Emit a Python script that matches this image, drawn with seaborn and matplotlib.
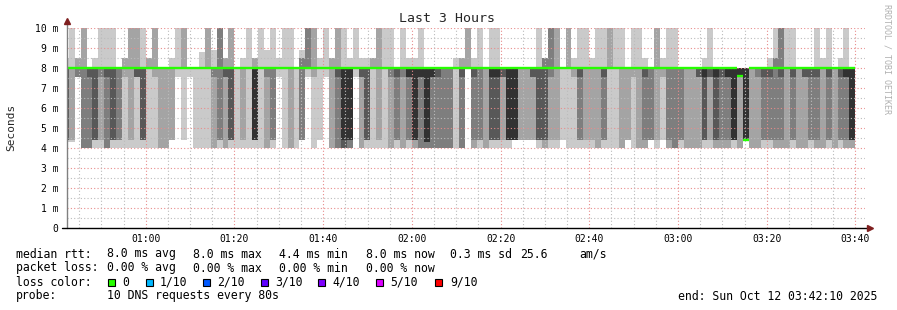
import numpy as np
import pandas as pd
import matplotlib
matplotlib.use("Agg")
import matplotlib.pyplot as plt
from matplotlib.patches import Rectangle
import seaborn as sns

# ---------------- data (ms), 10 sorted pings per 80 s step ----------------
p10 = [8.5, 10, 8.5, 10, 8, 8.5, 10, 10, 10, 8,
       8.5, 10, 10, 10, 8.5, 10, 8, 8, 8.5, 10,
       10, 8, 8, 8.8, 10, 8.9, 10, 8.5, 10, 8,
       8.5, 10, 8.5, 10, 8.9, 10, 8.5, 10, 10, 8,
       8.9, 10, 10, 8.5, 10, 8.5, 10, 10, 8.5, 10,
       8.5, 8.5, 8.5, 10, 10, 10, 8, 10, 8.5, 8.5,
       10, 8, 8, 8, 8, 8, 8.5, 8.5, 10, 8.5,
       10, 8, 10, 10, 8, 8, 8, 8, 8, 8,
       10, 8.5, 10, 10, 8, 10, 8.5, 10, 10, 8.5,
       10, 10, 10, 10, 10, 8, 10, 10, 8.5, 8,
       10, 8.5, 10, 10, 8, 8, 8, 8, 8.5, 10,
       8, 8, 8, 8, 8, 8, 8, 8, 8, 8.5,
       10, 10, 10, 10, 8, 8, 8, 10, 8.5, 10,
       8, 8.5, 10, 8]
p09 = [8, 8, 8.5, 10, 8, 8, 8, 8, 8, 8,
       8.5, 10, 10, 8, 8.5, 10, 8, 8, 8, 8,
       10, 8, 8, 8, 10, 8, 10, 8.5, 10, 8,
       8, 8, 8.5, 8, 8, 8, 8, 8, 8, 8,
       8.5, 10, 10, 8, 8, 8.5, 10, 8, 8, 8,
       8, 8, 8.5, 10, 8, 8, 8, 8, 8, 8,
       8, 8, 8, 8, 8, 8, 8, 8.5, 10, 8,
       8, 8, 8, 8, 8, 8, 8, 8, 8, 8,
       8, 8.5, 10, 10, 8, 10, 8, 8, 8, 8,
       8, 8, 10, 8, 8, 8, 8, 8, 8, 8,
       10, 8, 8, 8, 8, 8, 8, 8, 8, 8,
       8, 8, 8, 8, 8, 8, 8, 8, 8, 8,
       8.5, 10, 8, 8, 8, 8, 8, 8, 8, 8,
       8, 8, 8, 8]
p08 = [8, 8, 8, 8, 8, 8, 8, 8, 8, 8,
       8, 8, 8, 8, 8, 8, 8, 8, 8, 8,
       8, 8, 8, 8, 8, 8, 10, 8, 8, 8,
       8, 8, 8, 8, 8, 8, 8, 8, 8, 8,
       8.5, 10, 8, 8, 8, 8, 8, 8, 8, 8,
       8, 8, 8, 8, 8, 8, 8, 8, 8, 8,
       8, 8, 8, 8, 8, 8, 8, 8, 8, 8,
       8, 8, 8, 8, 8, 8, 8, 8, 8, 8,
       8, 8.5, 10, 8, 8, 8, 8, 8, 8, 8,
       8, 8, 8, 8, 8, 8, 8, 8, 8, 8,
       8, 8, 8, 8, 8, 8, 8, 8, 8, 8,
       8, 8, 8, 8, 8, 8, 8, 8, 8, 8,
       8.5, 10, 8, 8, 8, 8, 8, 8, 8, 8,
       8, 8, 8, 8]
p07 = [8, 8, 8, 8, 8, 8, 8, 8, 8, 8,
       8, 8, 8, 8, 8, 8, 8, 8, 8, 8,
       8, 8, 8, 8, 8, 8, 8, 8, 8, 8,
       8, 8, 8, 8, 8, 8, 8, 8, 8, 8,
       8, 8, 8, 8, 8, 8, 8, 8, 8, 8,
       8, 8, 8, 8, 8, 8, 8, 8, 8, 8,
       8, 8, 8, 8, 8, 8, 8, 8, 8, 8,
       8, 8, 8, 8, 8, 8, 8, 8, 8, 8,
       8, 8, 8, 8, 8, 8, 8, 8, 8, 8,
       8, 8, 8, 8, 8, 8, 8, 8, 8, 8,
       8, 8, 8, 8, 8, 8, 8, 8, 8, 8,
       8, 8, 8, 8, 8, 8, 8, 8, 8, 8,
       8, 8, 8, 8, 8, 8, 8, 8, 8, 8,
       8, 8, 8, 8]
p06 = list(p07)
p05 = [8, 8, 8, 8, 8, 8, 8, 8, 8, 8,
       8, 8, 8, 8, 8, 8, 8, 8, 8, 8,
       8, 8, 8, 8, 8, 8, 8, 8, 8, 8,
       8, 8, 4.4, 8, 8, 8, 8, 8, 8, 8,
       8, 8, 8, 8, 8, 8, 8, 4.4, 4.4, 8,
       8, 8, 8, 8, 8, 8, 8, 8, 7.55, 4.4,
       7.55, 4.3, 7.55, 8, 8, 8, 8, 8, 8, 8,
       8, 8, 7.55, 7.55, 8, 4.4, 4.4, 8, 8, 8,
       8, 8, 8, 8, 8, 8, 8, 8, 8, 8,
       8, 8, 8, 8, 8, 8, 8, 8, 8, 8,
       8, 8, 8, 8, 8, 8, 8, 8, 7.55, 8,
       7.55, 8, 7.55, 4.4, 7.55, 4.4, 8, 8, 8, 8,
       8, 8, 8, 8, 8, 8, 8, 8, 8, 8,
       8, 8, 7.55, 4.4]
p04 = [4.4, 8, 8, 8, 7.55, 4.4, 8, 7.55, 4.4, 8,
       8, 8, 7.55, 4.4, 8, 8, 8, 8, 8, 8,
       8, 8, 8, 8, 8, 8, 8, 7.55, 4.4, 8,
       8, 8, 4.4, 8, 8, 8, 8, 8, 8, 8,
       8, 8, 8, 8, 8, 8, 7.55, 4, 4.4, 8,
       7.55, 4.4, 8, 8, 8, 8, 7.55, 8, 7.55, 4.4,
       7.55, 4.3, 7.55, 7.55, 8, 8, 8, 7.55, 8, 7.55,
       8, 8, 4.4, 4.4, 7.55, 4.4, 4.4, 8, 8, 7.55,
       4.4, 4.4, 8, 8, 8, 8, 8, 7.55, 8, 8,
       8, 7.55, 8, 8, 8, 8, 8, 8, 7.55, 8,
       8, 8, 8, 8, 8, 8, 8, 7.55, 4.4, 7.55,
       4.4, 7.55, 7.55, 4.4, 7.55, 4.4, 8, 8, 7.55, 7.55,
       8, 7.55, 8, 7.55, 8, 7.55, 7.55, 7.55, 8, 7.55,
       8, 7.55, 7.55, 4.4]
p03 = [4.4, 8, 7.55, 4, 4, 4.4, 7.55, 4, 4.4, 4.4,
       8, 8, 7.55, 4.4, 8, 8, 8, 8, 8, 8,
       8, 8, 8, 8, 8, 7.55, 4.4, 7.55, 4.4, 8,
       8, 8, 4.4, 8, 7.55, 4.4, 8, 8, 8, 8,
       4.4, 8, 8, 8, 8, 8, 4, 4, 4, 8,
       7.55, 4.4, 8, 8, 8, 7.55, 4.4, 7.55, 4.4, 4.4,
       4, 4, 4, 4, 4, 4, 8, 4, 8, 4.4,
       4.4, 8, 4.4, 4.4, 7.55, 4.4, 4.4, 8, 8, 7.55,
       4.4, 4.4, 7.55, 8, 8, 8, 8, 4.4, 8, 8,
       8, 4.4, 8, 8, 8, 8, 8, 8, 4.4, 4.4,
       8, 8, 4.4, 4, 4.4, 8, 8, 7.55, 4.4, 7.55,
       4.4, 4.4, 4.4, 4.4, 7.55, 4.4, 8, 7.55, 4.4, 4.4,
       4.4, 4.4, 8, 4.4, 8, 7.55, 4.4, 4.4, 8, 4.4,
       8, 4.4, 4.4, 4.4]
p02 = [4.4, 4.4, 7.55, 4, 4, 4.4, 4.4, 4, 4.4, 4.4,
       7.55, 4.4, 7.55, 4.4, 8, 7.55, 4, 4, 4.4, 8,
       8, 8, 8, 8, 8, 4, 4.4, 4, 4.4, 8,
       4.4, 8, 4.4, 8, 4, 4.4, 8, 8, 4, 8,
       4.4, 8, 7.55, 8, 8, 4, 4, 4, 4, 8,
       4, 4.4, 8, 4.4, 8, 4, 4.4, 4, 4.4, 4,
       4, 4, 4, 4, 4, 4, 8, 4, 8, 4,
       4.4, 4, 4.4, 4.4, 4.4, 4.4, 4.4, 4.4, 4.4, 4.4,
       4.4, 4, 4.4, 4.4, 8, 8, 7.55, 4.4, 4.4, 4.4,
       4, 4.4, 8, 8, 4, 4.4, 7.55, 4, 4, 4.4,
       4.4, 7.55, 4, 4, 4.4, 4, 4, 4, 4.4, 4.4,
       4, 4, 4, 4.4, 4, 4.4, 4, 4, 4.4, 4.4,
       4, 4, 4, 4.4, 4, 4, 4.4, 4, 4, 4.4,
       4, 4.4, 4, 4]
p01 = [4.3, 4.3, 7.55, 4, 4, 4, 4, 4, 4, 4,
       4, 4, 4, 4, 4, 4, 4, 4, 4.4, 7.55,
       4.4, 7.55, 4, 4, 4, 4, 4, 4, 4, 4,
       4, 4, 4, 4, 4, 4, 7.55, 4, 4, 4,
       4.4, 7.55, 4, 4.4, 7.55, 4, 4, 4, 4, 7.55,
       4, 4, 4, 4, 4, 4, 4, 4, 4, 4,
       4, 4, 4, 4, 4, 4, 4, 4, 8, 4,
       4, 4, 4, 4, 4, 4, 4.4, 4.4, 4.4, 4.4,
       4, 4, 4, 4, 4.4, 4, 4, 4, 4, 4,
       4, 4, 4, 4, 4, 4.4, 4, 4, 4, 4.4,
       4, 4.4, 4, 4, 4, 4, 4, 4, 4, 4,
       4, 4, 4, 4, 4, 4.4, 4, 4, 4, 4,
       4, 4, 4, 4, 4, 4, 4, 4, 4, 4,
       4, 4, 4, 4]
median_rtt = [8] * 114 + [7.6, 4.4] + [8] * 18

x_labels = ["01:00", "01:20", "01:40", "02:00", "02:20", "02:40", "03:00", "03:20", "03:40"]
y_labels = ["0", "1 m", "2 m", "3 m", "4 m", "5 m", "6 m", "7 m", "8 m", "9 m", "10 m"]
loss_labels = ["0", "1/10", "2/10", "3/10", "4/10", "5/10", "9/10"]
loss_colors = ["#26ff00", "#00b8ff", "#0059ff", "#5e00ff", "#7e00ff", "#dd00ff", "#ff0000"]

# ---------------- figure ----------------
sns.set_style("white")
plt.rcParams["font.family"] = ["DejaVu Sans Mono", "DejaVu Sans"]

W, H = 897, 310
fig = plt.figure(figsize=(W / 100, H / 100), dpi=100)
fig.patch.set_facecolor("white")

def fx(px):
    return px / W

def fy(py):
    return 1 - py / H

ax = fig.add_axes([fx(66.7), fy(228), fx(865) - fx(66.7), 200 / H])
ax.set_facecolor("white")

step = 80 / 60.0            # minutes
t_start = 41.31             # minutes after 00:00 (left edge of first step)
n = len(p10)
left = t_start + step * np.arange(n)

bands = [(p01, p10), (p02, p09), (p03, p08), (p04, p07), (p05, p06)]
smoke = ["#cacaca", "#a4a4a4", "#7e7e7e", "#585858", "#323232"]
for (lo, hi), c in zip(bands, smoke):
    lo = np.asarray(lo, float)
    hi = np.asarray(hi, float)
    ax.bar(left, hi - lo, width=step, bottom=lo, align="edge", color=c,
           linewidth=0, antialiased=False, zorder=1)

xmin, xmax = 42.1667, 222.1667
ax.set_xlim(xmin, xmax)
ax.set_ylim(0, 10)

# grid (drawn over smoke like rrdtool)
for yv in np.arange(0.5, 10.01, 0.5):
    major = abs(yv - round(yv)) < 1e-6
    ax.axhline(yv, color="#e88c8c" if major else "#bcbcbc", lw=0.8,
               ls=(0, (1, 2)), zorder=2)
for tv in range(45, 221, 5):
    major = tv % 20 == 0
    ax.axvline(tv, color="#e88c8c" if major else "#bcbcbc", lw=0.8,
               ls=(0, (1, 2)), zorder=2)

# median line (one flat segment per step)
seg = pd.DataFrame({
    "t": np.concatenate([left, left + step]),
    "rtt": np.concatenate([median_rtt, median_rtt]),
    "col": np.concatenate([np.arange(n), np.arange(n)]),
}).sort_values(["col", "t"])
sns.lineplot(data=seg, x="t", y="rtt", units="col", estimator=None,
             color="#26ff00", lw=1.7, ax=ax, legend=False, zorder=4,
             solid_capstyle="butt")

for s in ax.spines.values():
    s.set_visible(False)

# axes lines & arrows
ax.plot([xmin, xmin], [0, 10.3], color="#808080", lw=1.0, clip_on=False, zorder=5)
ax.plot([xmin - 1.0, 223.0], [0, 0], color="#000000", lw=1.0, clip_on=False, zorder=5)
ax.plot([xmin], [10.33], marker="^", ms=4.5, color="#7f1f1f", clip_on=False, zorder=6)
ax.plot([223.3], [0], marker=">", ms=4.5, color="#7f1f1f", clip_on=False, zorder=6)

ax.set_xticks([60, 80, 100, 120, 140, 160, 180, 200, 220])
ax.set_xticklabels(x_labels)
ax.set_yticks(range(11))
ax.set_yticklabels(y_labels)
ax.tick_params(axis="both", labelsize=7, colors="#000000", length=0)
ax.tick_params(axis="y", pad=6)
ax.tick_params(axis="x", pad=4)
ax.set_xlabel("")
ax.set_ylabel("")

# titles and side texts
fig.text(fx(447), fy(19), "Last 3 Hours", ha="center", va="center", fontsize=9.5)
fig.text(fx(11), fy(127), "Seconds", rotation=90, ha="center", va="center", fontsize=8)
fig.text(fx(887), fy(59), "RRDTOOL / TOBI OETIKER", rotation=270, ha="center",
         va="center", fontsize=6, color="#b0b0b0")

# legend block
fs = 8.3
def put(x, y, s):
    fig.text(fx(x), fy(y), s, ha="left", va="center", fontsize=fs, color="#000000")

put(16, 254, "median rtt:")
put(107, 254, "8.0 ms avg")
put(193, 254, "8.0 ms max")
put(279, 254, "4.4 ms min")
put(366, 254, "8.0 ms now")
put(450, 254, "0.3 ms sd")
put(520, 254, "25.6")
put(579, 254, "am/s")

put(16, 268, "packet loss:")
put(107, 268, "0.00 % avg")
put(193, 268, "0.00 % max")
put(279, 268, "0.00 % min")
put(366, 268, "0.00 % now")

put(16, 282, "loss color:")
box_x = [108.3, 145.7, 202.7, 261, 318.3, 375.7, 435]
lab_x = [122.7, 160, 217, 275.3, 332.7, 390, 450]
for bx, lx, lab, col in zip(box_x, lab_x, loss_labels, loss_colors):
    fig.patches.append(Rectangle((fx(bx), fy(285.5)), 7 / W, 7 / H,
                                 transform=fig.transFigure, facecolor=col,
                                 edgecolor="#000000", lw=0.8))
    put(lx, 282, lab)

put(16, 296, "probe:")
put(107, 296, "10 DNS requests every 80s")
put(678, 296, "end: Sun Oct 12 03:42:10 2025")

fig.savefig("out.png", dpi=100, facecolor="white")
